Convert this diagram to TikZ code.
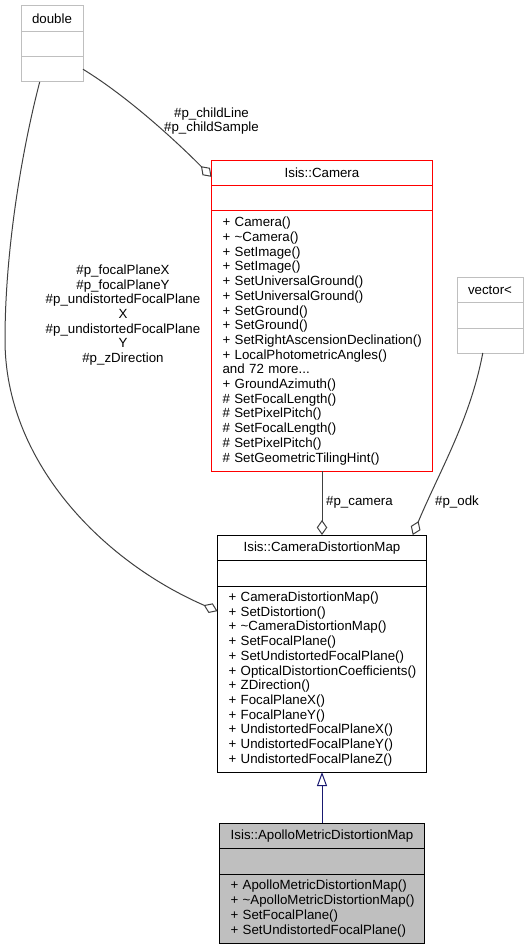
\documentclass[tikz,border=0pt]{standalone}
\usepackage{fontspec}
\setmainfont{Liberation Sans}
\usetikzlibrary{positioning,arrows.meta}
\definecolor{edgegray}{HTML}{404040}
\definecolor{boxgray}{HTML}{BFBFBF}
\definecolor{inhblue}{HTML}{191970}
\newcommand{\dfont}{\fontsize{13.3}{14.7}\selectfont\hyphenpenalty=10000\exhyphenpenalty=10000}
\tikzset{
  part/.style={draw, line width=1pt, inner sep=0pt, outer sep=0pt, font=\dfont},
  members/.style={part, align=left, inner xsep=11pt, inner ysep=0pt},
  assoc/.style={draw=edgegray, line width=1pt, -{Diamond[open,length=15pt,width=10.5pt]}},
  inherit/.style={draw=inhblue, line width=1pt, -{Triangle[open,length=14pt,width=10pt]}},
  elabel/.style={font=\dfont, align=center, inner sep=0pt}
}
\begin{document}
\begin{tikzpicture}[x=1pt,y=-1pt]
\useasboundingbox (0,0) rectangle (529,949);

% double
\node[part, draw=boxgray, minimum width=62pt, minimum height=25.5pt] (dbl) at (52,18.75) {double};
\node[part, draw=boxgray, minimum width=62pt, minimum height=25pt, below=0pt of dbl] (dbl-a) {};
\node[part, draw=boxgray, minimum width=62pt, minimum height=25.5pt, below=0pt of dbl-a] (dbl-m) {};

% vector<
\node[part, draw=boxgray, minimum width=66pt, minimum height=25pt] (vec) at (490,290) {vector<};
\node[part, draw=boxgray, minimum width=66pt, minimum height=25.5pt, below=0pt of vec] (vec-a) {};
\node[part, draw=boxgray, minimum width=66pt, minimum height=25pt, below=0pt of vec-a] (vec-m) {};

% Isis::Camera
\node[part, draw=red, minimum width=221pt, minimum height=25pt] (cam) at (322,173) {Isis::Camera};
\node[part, draw=red, minimum width=221pt, minimum height=25.5pt, below=0pt of cam] (cam-a) {};
\node[members, draw=red, text width=199pt, minimum height=260pt, below=0pt of cam-a] (cam-m) {%
+~Camera()\\
+~\textasciitilde Camera()\\
+~SetImage()\\
+~SetImage()\\
+~SetUniversalGround()\\
+~SetUniversalGround()\\
+~SetGround()\\
+~SetGround()\\
+~SetRightAscensionDeclination()\\
+~LocalPhotometricAngles()\\
and 72 more...\\
+~GroundAzimuth()\\
\#~SetFocalLength()\\
\#~SetPixelPitch()\\
\#~SetFocalLength()\\
\#~SetPixelPitch()\\
\#~SetGeometricTilingHint()};

% Isis::CameraDistortionMap
\node[part, minimum width=209pt, minimum height=25.5pt] (cdm) at (322,547.75) {Isis::CameraDistortionMap};
\node[part, minimum width=209pt, minimum height=25.5pt, below=0pt of cdm] (cdm-a) {};
\node[members, text width=187pt, minimum height=186pt, below=0pt of cdm-a] (cdm-m) {%
+~CameraDistortionMap()\\
+~SetDistortion()\\
+~\textasciitilde CameraDistortionMap()\\
+~SetFocalPlane()\\
+~SetUndistortedFocalPlane()\\
+~OpticalDistortionCoefficients()\\
+~ZDirection()\\
+~FocalPlaneX()\\
+~FocalPlaneY()\\
+~UndistortedFocalPlaneX()\\
+~UndistortedFocalPlaneY()\\
+~UndistortedFocalPlaneZ()};

% Isis::ApolloMetricDistortionMap
\node[part, fill=boxgray, minimum width=205pt, minimum height=25.5pt] (apo) at (322,835.75) {Isis::ApolloMetricDistortionMap};
\node[part, fill=boxgray, minimum width=205pt, minimum height=25.5pt, below=0pt of apo] (apo-a) {};
\node[members, fill=boxgray, text width=183pt, minimum height=69pt, below=0pt of apo-a] (apo-m) {%
+~ApolloMetricDistortionMap()\\
+~\textasciitilde ApolloMetricDistortionMap()\\
+~SetFocalPlane()\\
+~SetUndistortedFocalPlane()};

% connectors
\draw[assoc] (dbl-m.east) .. controls (130,98) and (180,145) .. (cam.182.6);
\draw[assoc] (dbl-m.226.7) .. controls (22,150) and (5,250) .. (5,340)
  .. controls (5,460) and (100,560) .. (cdm-m.147);
\draw[assoc] (cam-m) -- (cdm);
\draw[assoc] (vec-m.240.75) .. controls (470,420) and (440,470) .. (cdm.8.24);
\draw[inherit] (apo) -- (cdm-m);

% labels
\node[elabel] (lbl-child) at (211.5,121) {\#p\_childLine\\\#p\_childSample};
\node[elabel] (lbl-focal) at (123,315) {\#p\_focalPlaneX\\\#p\_focalPlaneY\\\#p\_undistortedFocalPlane\\X\\\#p\_undistortedFocalPlane\\Y\\\#p\_zDirection};
\node[elabel, anchor=west] (lbl-cam) at (326,502.5) {\#p\_camera};
\node[elabel, anchor=west] (lbl-odk) at (435,502) {\#p\_odk};

\end{tikzpicture}
\end{document}
